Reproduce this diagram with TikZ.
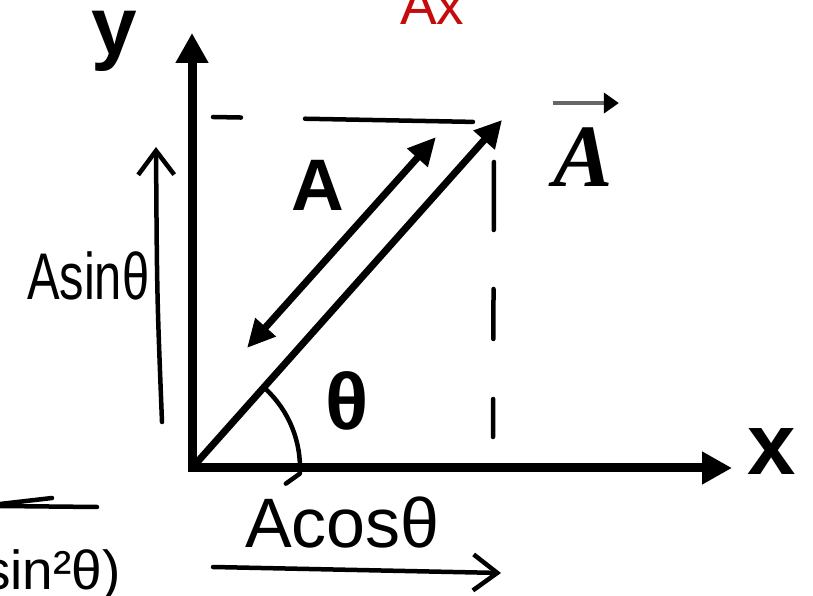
\documentclass[tikz,border=0pt]{standalone}
\usepackage{fontspec}
\usepackage{tikz}
\usetikzlibrary{arrows.meta}
\usetikzlibrary{calc}
\usepackage{xcolor}

\newfontfamily\axisfont{Liberation Sans}
\newfontfamily\vecfont{Liberation Serif}
\newfontfamily\handfont{Liberation Sans}
\definecolor{inkred}{RGB}{196,12,12}

\tikzset{
	axis/.style={line width=9pt,line join=miter,{Triangle[length=30pt,width=31pt]}-{Triangle[length=30pt,width=31pt]}},
	vecline/.style={line width=7pt,-{Triangle[length=27pt,width=27pt]}},
	lenline/.style={line width=7pt,{Triangle[length=28pt,width=26pt]}-{Triangle[length=28pt,width=26pt]}},
	proj/.style={line width=4.5pt,line cap=round},
	ink/.style={line width=4.5pt,line cap=round,line join=round},
	inkarrow/.style={ink,-{Straight Barb[length=24pt,width=36pt]}},
	biglabel/.style={inner sep=0pt,anchor=base,font=\axisfont\bfseries\fontsize{#1}{#1}\selectfont},
	hand/.style={inner sep=0pt,anchor=base west,font=\handfont\fontsize{#1}{#1}\selectfont},
}

\begin{document}
\begin{tikzpicture}[x=1pt,y=1pt,>=Stealth]
	\useasboundingbox (0,0) rectangle (813,596);
	\clip (0,0) rectangle (813,596);
	
	% Axes
	\coordinate (O) at (192,128);
	\coordinate (ytip) at (192,563);
	\coordinate (xtip) at (732,128);
	\draw[axis] (ytip) -- (O) -- (xtip);
	\node[biglabel=82] (ylab) at (114,541) {y};
	\node[biglabel=87] (xlab) at (772,121) {x};
	
	% Projections (dashed, hand drawn)
	\coordinate (hstart) at (213,479);
	\coordinate (hend) at (478,474);
	\coordinate (vstart) at (494,437);
	\coordinate (vend) at (493,159);
	\draw[proj,dash pattern=on 28pt off 64pt on 168pt off 100pt] (hstart) -- (hend);
	\draw[proj,dash pattern=on 38pt off 60pt on 50pt off 59pt on 68pt off 100pt] (vend) -- (vstart);
	
	% The vector and its length
	\coordinate (Atip) at (502,476);
	\draw[vecline] (O) -- (Atip);
	\coordinate (lenlo) at (247,248);
	\coordinate (lenhi) at (436,459);
	\draw[lenline] (lenlo) -- (lenhi);
	\node[biglabel=73] (lenlab) at (318,385) {A};
	
	% Vector name
	\node[inner sep=0pt,anchor=base,font=\vecfont\bfseries\itshape\fontsize{89}{89}\selectfont] (veclab) at (583,409) {A};
	\draw[black!60,line width=4pt,-{Triangle[length=15pt,width=20pt,color=black]}]
	($(veclab.north west)+(0,25)$) -- ($(veclab.north east)+(6,25)$);
	
	% Angle
	\draw[ink] (O) ++(47:108) arc[start angle=47,end angle=-3,radius=108] -- ++(-14,-10);
	\node[biglabel=80] (anglab) at (347,166) {θ};
	
	% Hand written components
	\coordinate (sinfoot) at (162,174);
	\coordinate (sinhead) at (156,449);
	\draw[inkarrow] (sinfoot) .. controls (157,300) .. (sinhead);
	\node[hand=66,xscale=0.74] (sinlab) at (27,296) {Asinθ};
	
	\coordinate (cosfoot) at (213,29);
	\coordinate (coshead) at (501,23);
	\draw[inkarrow] (cosfoot) -- (coshead);
	\node[hand=70] (coslab) at (245,48) {Acosθ};
	
	% Leftovers at the edges
	\node[hand=55,text=inkred] (axlab) at (400,571) {Ax};
	\draw[ink] (97,89) -- (0,90);
	\draw[ink] (0,92) -- (52,98);
	\node[hand=55] (sqlab) at (-17,6) {sin²θ)};
	
\end{tikzpicture}
\end{document}
